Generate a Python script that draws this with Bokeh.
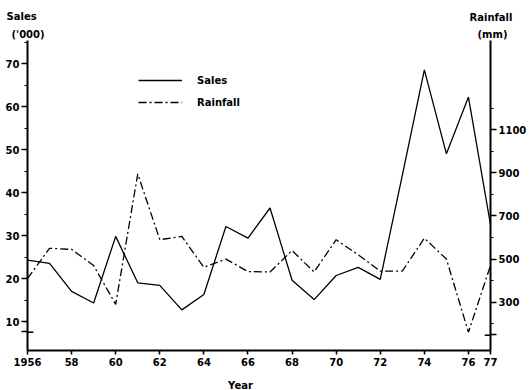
from bokeh.plotting import figure
from bokeh.layouts import column
from bokeh.models import Range1d, LinearAxis, FixedTicker, Label, Legend, LegendItem
from bokeh.core.properties import value
from bokeh.embed import file_html
from bokeh.resources import INLINE

# ---- data ----
years = list(range(1956, 1978))
sales = [24.3, 23.5, 17.0, 14.3, 29.8, 19.0, 18.4, 12.7, 16.3, 32.1, 29.4,
         36.4, 19.6, 15.1, 20.7, 22.6, 19.8, 44.0, 68.5, 49.0, 62.2, 32.5]
rainfall = [410, 550, 545, 470, 290, 895, 590, 605, 462, 500, 442,
            440, 540, 440, 590, 520, 444, 444, 597, 500, 161, 470]
x_ticks = [1956, 1958, 1960, 1962, 1964, 1966, 1968, 1970, 1972, 1974, 1976, 1977]
x_tick_labels = ["1956", "58", "60", "62", "64", "66", "68", "70", "72", "74", "76", "77"]
sales_ticks = [10, 20, 30, 40, 50, 60, 70]
sales_minor = [15, 25, 35, 45, 55, 65, 75]
rain_ticks = [300, 500, 700, 900, 1100]
rain_minor = [200, 400, 600, 800, 1000, 1200]
sales_break = 7.67
rain_break = 150

FONT = "DejaVu Sans"
FS = "10px"

W = 529
HEAD_H, FOOT_H = 40, 18
MAIN_H = 390 - HEAD_H - FOOT_H
L, R, T, B = 27, 39, 0, 22


def strip(h):
    f = figure(width=W, height=h, x_range=Range1d(0, W), y_range=Range1d(h, 0),
               output_backend="svg", toolbar_location=None,
               x_axis_type=None, y_axis_type=None,
               min_border_left=0, min_border_right=0, min_border_top=0, min_border_bottom=0)
    if "frame_align" in f.properties():
        f.frame_align = False
    f.grid.visible = False
    f.outline_line_color = None
    f.background_fill_color = "white"
    f.border_fill_color = "white"
    return f


# header with axis titles
head = strip(HEAD_H)
head.text(x=[6, 11, 469, 477], y=[16, 34, 17, 34],
          text=["Sales", "('000)", "Rainfall", "(mm)"],
          text_font=value(FONT), text_font_style="bold", text_font_size=FS,
          text_color="black", text_align="left", text_baseline="alphabetic")

# footer with x-axis title
foot = strip(FOOT_H)
foot.text(x=[240], y=[13], text=["Year"], text_font=value(FONT), text_font_style="bold",
          text_font_size=FS, text_color="black", text_align="center",
          text_baseline="alphabetic")

# main chart
p = figure(width=W, height=MAIN_H, x_range=Range1d(1956, 1977), y_range=Range1d(3.26, 75.35),
           output_backend="svg", toolbar_location=None,
           min_border_left=L, min_border_right=R, min_border_top=T, min_border_bottom=B)
if "frame_align" in p.properties():
    p.frame_align = False
p.extra_y_ranges = {"rain": Range1d(76, 1514)}
p.grid.visible = False
p.outline_line_color = None
p.background_fill_color = "white"
p.border_fill_color = "white"


def style_axis(ax):
    ax.axis_line_width = 2
    ax.axis_line_color = "black"
    ax.major_tick_line_width = 1.6
    ax.minor_tick_line_width = 1.2
    ax.major_tick_line_color = "black"
    ax.minor_tick_line_color = "black"
    ax.major_label_text_font = FONT
    ax.major_label_text_font_style = "bold"
    ax.major_label_text_font_size = FS
    ax.major_label_text_color = "black"


xa = p.xaxis[0]
style_axis(xa)
xa.ticker = FixedTicker(ticks=x_ticks)
xa.major_label_overrides = {t: s for t, s in zip(x_ticks, x_tick_labels)}
xa.major_tick_in = 0
xa.major_tick_out = 4
xa.minor_tick_out = 0
xa.minor_tick_in = 0
xa.major_label_standoff = 3

ya = p.yaxis[0]
style_axis(ya)
ya.ticker = FixedTicker(ticks=sales_ticks + [sales_break], minor_ticks=sales_minor)
ya.major_label_overrides = {sales_break: ""}
ya.major_tick_in = 0
ya.major_tick_out = 6
ya.minor_tick_in = 0
ya.minor_tick_out = 3
ya.major_label_standoff = 2

ra = LinearAxis(y_range_name="rain")
style_axis(ra)
ra.ticker = FixedTicker(ticks=rain_ticks + [rain_break], minor_ticks=rain_minor)
ra.major_label_overrides = {rain_break: ""}
ra.major_tick_in = 0
ra.major_tick_out = 6
ra.minor_tick_in = 0
ra.minor_tick_out = 3
ra.major_label_standoff = 2
p.add_layout(ra, "right")

r_sales = p.line(years, sales, line_color="black", line_width=1.3)
r_rain = p.line(years, rainfall, y_range_name="rain", line_color="black",
                line_width=1.3, line_dash="8 3 2 3")

legend = Legend(items=[LegendItem(label="Sales", renderers=[r_sales]),
                       LegendItem(label="Rainfall", renderers=[r_rain])],
                location=(111, 242), border_line_color=None, background_fill_alpha=0,
                padding=0, margin=0, spacing=10, glyph_width=44, glyph_height=12,
                label_height=12, label_standoff=15,
                label_text_font=FONT, label_text_font_style="bold",
                label_text_font_size=FS, label_text_color="black")
p.add_layout(legend, "center")

# axis break marks (inner halves; outer halves are the blank ticks)
for bx, by, rng in [(1956, sales_break, "default"), (1977, rain_break, "rain")]:
    p.add_layout(Label(x=bx, y=by, y_range_name=rng, text="\u2014", text_font=FONT,
                       text_font_style="bold", text_font_size="13px", text_color="black",
                       text_align="center", text_baseline="middle"))

layout = column(head, p, foot, spacing=0)
open("out.html", "w").write(file_html(layout, INLINE))
